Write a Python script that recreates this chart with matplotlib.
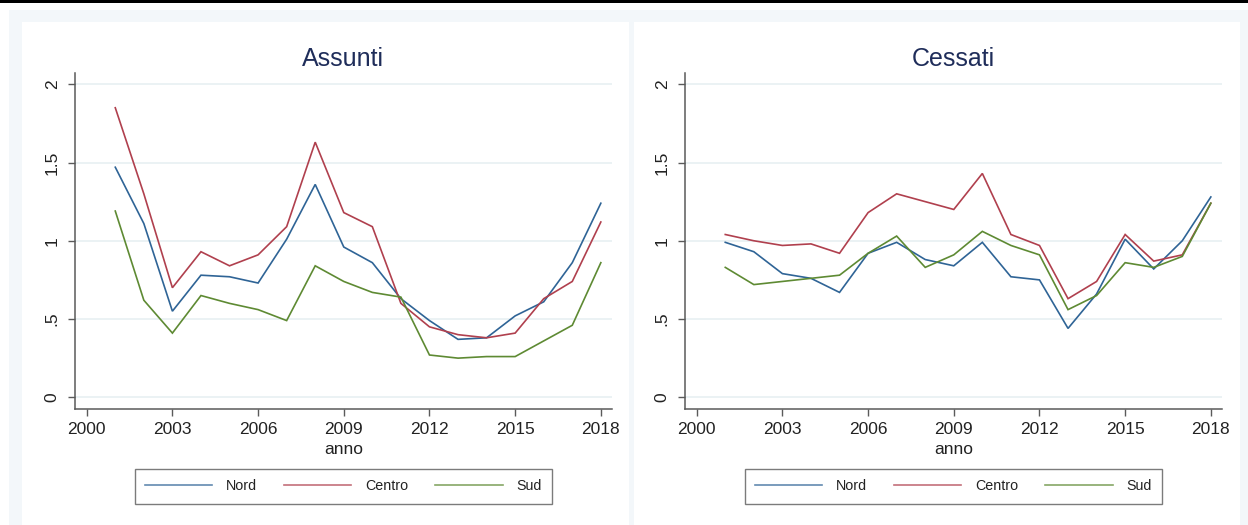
import matplotlib
matplotlib.use("Agg")
import matplotlib.pyplot as plt
from matplotlib.patches import Rectangle
from matplotlib.lines import Line2D

# ---- data -------------------------------------------------------------
years = list(range(2001, 2019))

assunti_nord = [1.47, 1.11, 0.55, 0.78, 0.77, 0.73, 1.01, 1.36, 0.96, 0.86,
                0.63, 0.49, 0.37, 0.38, 0.52, 0.61, 0.86, 1.24]
assunti_centro = [1.85, 1.30, 0.70, 0.93, 0.84, 0.91, 1.09, 1.63, 1.18, 1.09,
                  0.60, 0.45, 0.40, 0.38, 0.41, 0.63, 0.74, 1.12]
assunti_sud = [1.19, 0.62, 0.41, 0.65, 0.60, 0.56, 0.49, 0.84, 0.74, 0.67,
               0.64, 0.27, 0.25, 0.26, 0.26, 0.36, 0.46, 0.86]

cessati_nord = [0.99, 0.93, 0.79, 0.76, 0.67, 0.92, 0.99, 0.88, 0.84, 0.99,
                0.77, 0.75, 0.44, 0.66, 1.01, 0.82, 1.00, 1.28]
cessati_centro = [1.04, 1.00, 0.97, 0.98, 0.92, 1.18, 1.30, 1.25, 1.20, 1.43,
                  1.04, 0.97, 0.63, 0.74, 1.04, 0.87, 0.91, 1.24]
cessati_sud = [0.83, 0.72, 0.74, 0.76, 0.78, 0.92, 1.03, 0.83, 0.91, 1.06,
               0.97, 0.91, 0.56, 0.65, 0.86, 0.83, 0.90, 1.24]

regions = ["Nord", "Centro", "Sud"]
panel_titles = ["Assunti", "Cessati"]
x_label = "anno"
x_ticks = [2000, 2003, 2006, 2009, 2012, 2015, 2018]
y_ticks = [0, 0.5, 1, 1.5, 2]
y_tick_labels = ["0", ".5", "1", "1.5", "2"]

# ---- style ------------------------------------------------------------
plt.rcParams["font.family"] = ["Liberation Sans", "DejaVu Sans"]
colors = ["#2f6496", "#b0404e", "#5e8a33"]
axis_gray = "#5a5a5a"
grid_color = "#e9f1f3"
tint = "#f3f7fa"

W, H = 1248, 525
fig = plt.figure(figsize=(W / 100, H / 100), dpi=100)
fig.patch.set_facecolor("white")


def px_rect(x0, y0, x1, y1, color, z=-5):
    fig.patches.append(Rectangle((x0 / W, 1 - y1 / H), (x1 - x0) / W, (y1 - y0) / H,
                                 transform=fig.transFigure, facecolor=color,
                                 edgecolor="none", zorder=z))


# page rule and graph regions
px_rect(0, 0, W, 3.2, "black")
px_rect(9, 10, W, H, tint, z=-6)
px_rect(22, 22, 629, H, "white")
px_rect(634, 22, 1240, H, "white")

panels = [
    (assunti_nord, assunti_centro, assunti_sud),
    (cessati_nord, cessati_centro, cessati_sud),
]
axis_left_px = [75, 685]
ax_w_px = 536.7
ax_top_px, ax_bot_px = 73, 409

for i, (series, title) in enumerate(zip(panels, panel_titles)):
    l = axis_left_px[i]
    ax = fig.add_axes([l / W, 1 - ax_bot_px / H, ax_w_px / W, (ax_bot_px - ax_top_px) / H])
    ax.set_facecolor("white")
    for vals, name, c in zip(series, regions, colors):
        ax.plot(years, vals, color=c, lw=1.2, solid_joinstyle="miter", zorder=3)

    ax.set_xlim(1999.59, 2018.38)
    ax.set_ylim(-0.075, 2.072)
    ax.set_xticks(x_ticks)
    ax.set_yticks(y_ticks)
    ax.set_yticklabels(y_tick_labels, rotation=90, va="center")
    ax.grid(axis="y", color=grid_color, lw=1.3, zorder=0)
    ax.set_axisbelow(True)

    for s in ["top", "right"]:
        ax.spines[s].set_visible(False)
    for s in ["left", "bottom"]:
        ax.spines[s].set_color(axis_gray)
        ax.spines[s].set_linewidth(1.1)
    ax.tick_params(axis="both", direction="out", length=5, width=1.0,
                   color=axis_gray, labelsize=12.5, labelcolor="#222222")
    ax.tick_params(axis="y", pad=6)
    ax.tick_params(axis="x", pad=4)

    ax.set_xlabel(x_label, fontsize=12.5, color="#222222", labelpad=4)
    ax.set_title(title, fontsize=18, color="#1f2d5a", pad=5)

    center_px = l + ax_w_px / 2
    leg_handles = [Line2D([0], [0], color=c, lw=1.2, alpha=0.75) for c in colors]
    leg = fig.legend(leg_handles, regions, loc="center",
                     bbox_to_anchor=(center_px / W, 1 - 486.5 / H),
                     ncol=3, fontsize=10.3, frameon=True, fancybox=False,
                     handlelength=4.7, handletextpad=0.95, columnspacing=1.9,
                     borderpad=0.7, borderaxespad=0)
    frame = leg.get_frame()
    frame.set_edgecolor(axis_gray)
    frame.set_linewidth(1.0)
    frame.set_facecolor("white")
    for t in leg.get_texts():
        t.set_color("#222222")

fig.savefig("out.png", dpi=100, facecolor=fig.get_facecolor())
